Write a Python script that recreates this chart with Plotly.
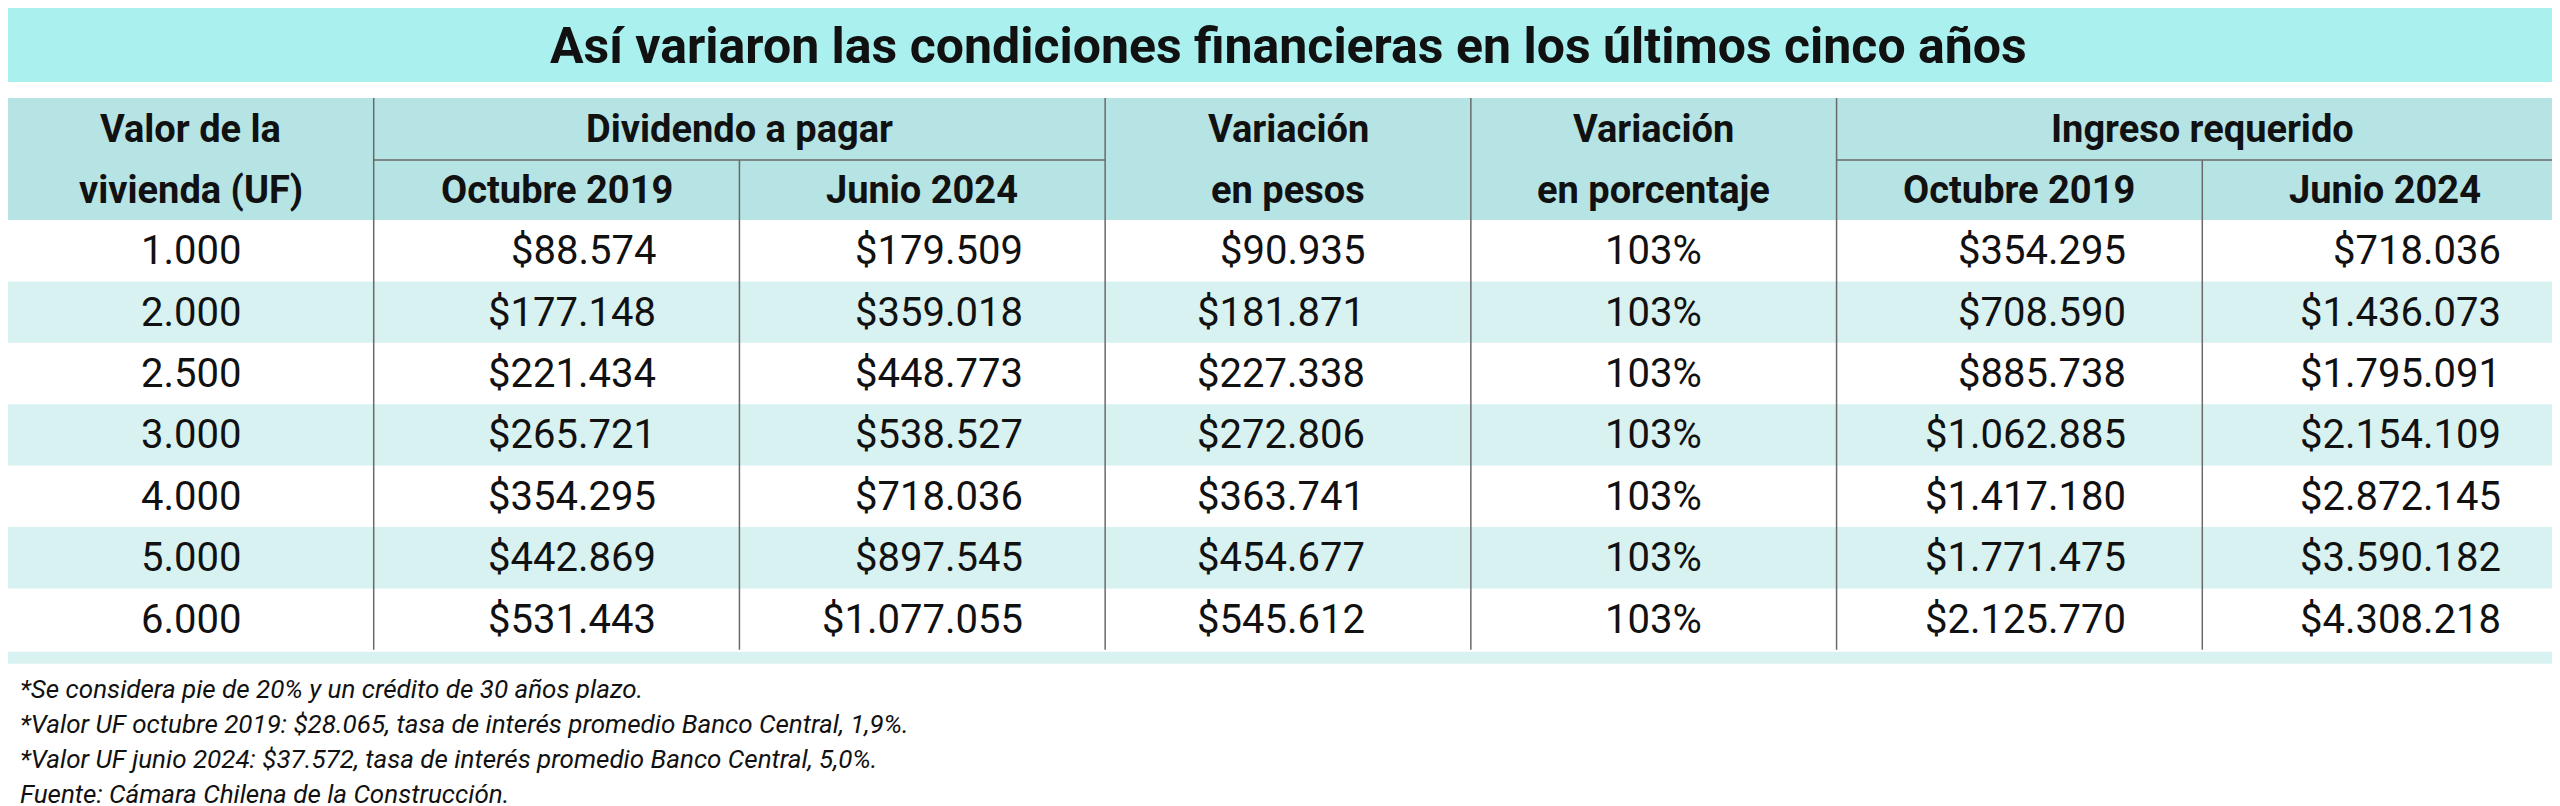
import plotly.graph_objects as go

title = "Así variaron las condiciones financieras en los últimos cinco años"
valor_uf = ["1.000", "2.000", "2.500", "3.000", "4.000", "5.000", "6.000"]
div_oct2019 = ["$88.574", "$177.148", "$221.434", "$265.721", "$354.295", "$442.869", "$531.443"]
div_jun2024 = ["$179.509", "$359.018", "$448.773", "$538.527", "$718.036", "$897.545", "$1.077.055"]
var_pesos = ["$90.935", "$181.871", "$227.338", "$272.806", "$363.741", "$454.677", "$545.612"]
var_pct = ["103%"] * 7
ing_oct2019 = ["$354.295", "$708.590", "$885.738", "$1.062.885", "$1.417.180", "$1.771.475", "$2.125.770"]
ing_jun2024 = ["$718.036", "$1.436.073", "$1.795.091", "$2.154.109", "$2.872.145", "$3.590.182", "$4.308.218"]
notes = [
    "*Se considera pie de 20% y un crédito de 30 años plazo.",
    "*Valor UF octubre 2019: $28.065, tasa de interés promedio Banco Central, 1,9%.",
    "*Valor UF junio 2024: $37.572, tasa de interés promedio Banco Central, 5,0%.",
    "Fuente: Cámara Chilena de la Construcción.",
]

W, H = 2560, 806
FONT = "Liberation Sans Narrow, Roboto, Arial Narrow, sans-serif"
cw = W / 7
colx = [i * cw for i in range(8)]
y_hdr0, y_hdr_mid, y_hdr1 = 90, 152, 212
rh = 61.4
TITLE_BG = "#aaf0ee"
HDR_BG = "#b6e3e3"
ALT_BG = "#d8f1f1"
LINE = "#6a6a6a"

shapes = []
ann = []

def rect(x0, y0, x1, y1, color):
    shapes.append(dict(type="rect", xref="x", yref="y", x0=x0, x1=x1, y0=y0, y1=y1,
                       fillcolor=color, line=dict(width=0), layer="below"))

def line(x0, y0, x1, y1, w=1.5):
    shapes.append(dict(type="line", xref="x", yref="y", x0=x0, x1=x1, y0=y0, y1=y1,
                       line=dict(color=LINE, width=w)))

def text(x, y, s, size, anchor="center", bold=False, italic=False):
    if bold:
        s = "<b>" + s + "</b>"
    if italic:
        s = "<i>" + s + "</i>"
    ann.append(dict(x=x, y=y, xref="x", yref="y", text=s, showarrow=False,
                    xanchor=anchor, yanchor="middle",
                    font=dict(family=FONT, size=size, color="#111111")))

# title band
rect(0, 0, W, 74, TITLE_BG)
text(W / 2, 38, title, 50, bold=True)
# header band
rect(0, y_hdr0, W, y_hdr1, HDR_BG)
# data rows
nrows = len(valor_uf)
for i in range(nrows):
    if i % 2 == 1:
        rect(0, y_hdr1 + i * rh, W, y_hdr1 + (i + 1) * rh, ALT_BG)
y_end = y_hdr1 + nrows * rh
rect(0, y_end + 2, W, y_end + 14, ALT_BG)

# header lines
line(colx[1], y_hdr_mid, colx[3], y_hdr_mid)
line(colx[5], y_hdr_mid, colx[7], y_hdr_mid)
for k in [1, 3, 4, 5]:
    line(colx[k], y_hdr0, colx[k], y_end)
for k in [2, 6]:
    line(colx[k], y_hdr_mid, colx[k], y_end)

hs = 38
ym1, ym2 = (y_hdr0 + y_hdr_mid) / 2, (y_hdr_mid + y_hdr1) / 2
text(colx[0] + cw / 2, ym1, "Valor de la", hs, bold=True)
text(colx[0] + cw / 2, ym2, "vivienda (UF)", hs, bold=True)
text(colx[2], ym1, "Dividendo a pagar", hs, bold=True)
text(colx[1] + cw / 2, ym2, "Octubre 2019", hs, bold=True)
text(colx[2] + cw / 2, ym2, "Junio 2024", hs, bold=True)
text(colx[3] + cw / 2, ym1, "Variación", hs, bold=True)
text(colx[3] + cw / 2, ym2, "en pesos", hs, bold=True)
text(colx[4] + cw / 2, ym1, "Variación", hs, bold=True)
text(colx[4] + cw / 2, ym2, "en porcentaje", hs, bold=True)
text(colx[6], ym1, "Ingreso requerido", hs, bold=True)
text(colx[5] + cw / 2, ym2, "Octubre 2019", hs, bold=True)
text(colx[6] + cw / 2, ym2, "Junio 2024", hs, bold=True)

ds = 40
cols = [(valor_uf, colx[0] + cw / 2, "center"),
        (div_oct2019, 650, "right"),
        (div_jun2024, 1017, "right"),
        (var_pesos, 1359, "right"),
        (var_pct, colx[4] + cw / 2, "center"),
        (ing_oct2019, 2120, "right"),
        (ing_jun2024, 2495, "right")]
for vals, x, anc in cols:
    for i, v in enumerate(vals):
        text(x, y_hdr1 + (i + 0.5) * rh, v, ds, anchor=anc)

for i, n in enumerate(notes):
    text(10, 681 + i * 35, n, 26, anchor="left", italic=True)

fig = go.Figure()
fig.update_layout(
    width=W, height=H, margin=dict(l=0, r=0, t=0, b=0),
    paper_bgcolor="white", plot_bgcolor="white",
    xaxis=dict(range=[0, W], visible=False, fixedrange=True),
    yaxis=dict(range=[H, 0], visible=False, fixedrange=True),
    shapes=shapes, annotations=ann, showlegend=False,
)
fig.write_html("out.html")
